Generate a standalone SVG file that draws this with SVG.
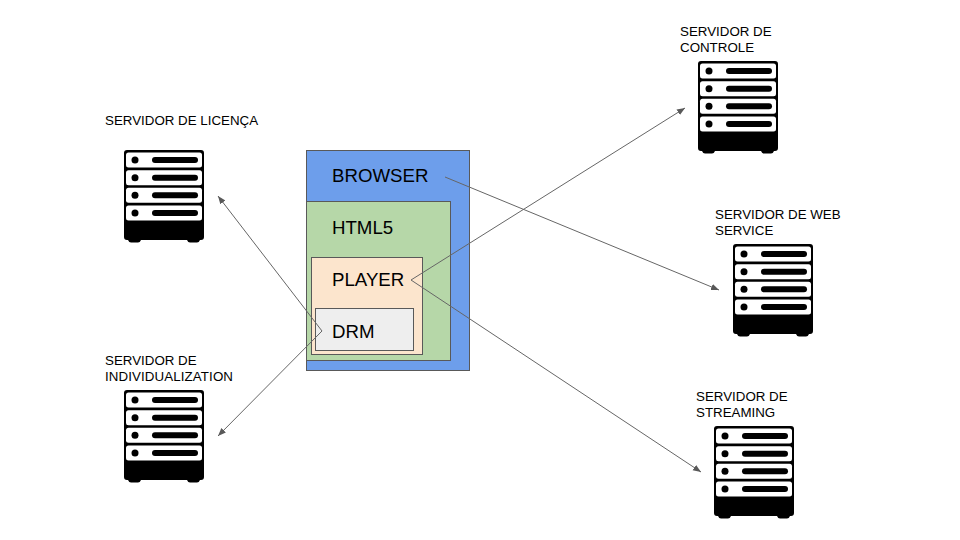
<svg xmlns="http://www.w3.org/2000/svg" xmlns:xlink="http://www.w3.org/1999/xlink" width="960" height="540" viewBox="0 0 960 540">
<style>
text{font-family:"Liberation Sans",Arial,sans-serif;fill:#000}
.s{font-size:13.330px}
.b{font-size:18.670px}
.box{stroke:#595959;stroke-width:1}
.c{fill:none;stroke:#666666;stroke-width:1;marker-end:url(#a)}
</style>
<defs>
<marker id="a" markerUnits="userSpaceOnUse" markerWidth="10" markerHeight="10" refX="8" refY="4" orient="auto"><path d="M0 0.8L8 4L0 7.2z" fill="#595959"/></marker>
<g id="srv">
<path d="M3 0H77a3 3 0 0 1 3 3V87a3 3 0 0 1-3 3H76q-1 2.500-3 2.500H66q-2 0-3-2.500H17q-1 2.500-3 2.500H7q-2 0-3-2.500H3a3 3 0 0 1-3-3V3a3 3 0 0 1 3-3z" fill="#000"/>
<g id="u"><rect x="2" y="2.500" width="76" height="15" rx="2.500" fill="#fff"/><circle cx="11" cy="10" r="3.500" fill="#000"/><rect x="28" y="7" width="46" height="6" rx="3" fill="#000"/></g>
<use xlink:href="#u" href="#u" y="17.670"/><use xlink:href="#u" href="#u" y="35.330"/><use xlink:href="#u" href="#u" y="53"/>
</g>
</defs>
<rect width="960" height="540" fill="#fff"/>
<g id="browser"><rect class="box" x="306.500" y="150.500" width="163" height="220" fill="#6d9eeb"/><text class="b" x="332" y="182">BROWSER</text></g>
<g id="html5"><rect class="box" x="306.500" y="201.500" width="144" height="159" fill="#b6d7a8"/><text class="b" x="332" y="234">HTML5</text></g>
<g id="player"><rect class="box" x="311.500" y="257.500" width="111" height="97" fill="#fce5cd"/><text class="b" x="332" y="286">PLAYER</text></g>
<g id="drm"><rect class="box" x="315.500" y="308.500" width="98" height="42" fill="#eeeeee"/><text class="b" x="332" y="338">DRM</text></g>
<g id="srv-licenca"><use xlink:href="#srv" href="#srv" x="124" y="150"/><text class="s" x="105" y="125">SERVIDOR DE LICENÇA</text></g>
<g id="srv-indiv"><use xlink:href="#srv" href="#srv" x="124" y="390"/><text class="s" x="105" y="365">SERVIDOR DE</text><text class="s" x="105" y="381" textLength="128">INDIVIDUALIZATION</text></g>
<g id="srv-controle"><use xlink:href="#srv" href="#srv" x="698" y="61"/><text class="s" x="680" y="36">SERVIDOR DE</text><text class="s" x="680" y="52">CONTROLE</text></g>
<g id="srv-web"><use xlink:href="#srv" href="#srv" x="733" y="244"/><text class="s" x="715" y="219">SERVIDOR DE WEB</text><text class="s" x="715" y="235">SERVICE</text></g>
<g id="srv-streaming"><use xlink:href="#srv" href="#srv" x="714" y="426"/><text class="s" x="696" y="401">SERVIDOR DE</text><text class="s" x="696" y="417">STREAMING</text></g>
<g id="connectors">
<path class="c" d="M322 331L218 196"/>
<path class="c" d="M322 331L218 436"/>
<path class="c" d="M411 280L685 108"/>
<path class="c" d="M411 280L701 472"/>
<path class="c" d="M445 177L719 290"/>
</g>
</svg>
